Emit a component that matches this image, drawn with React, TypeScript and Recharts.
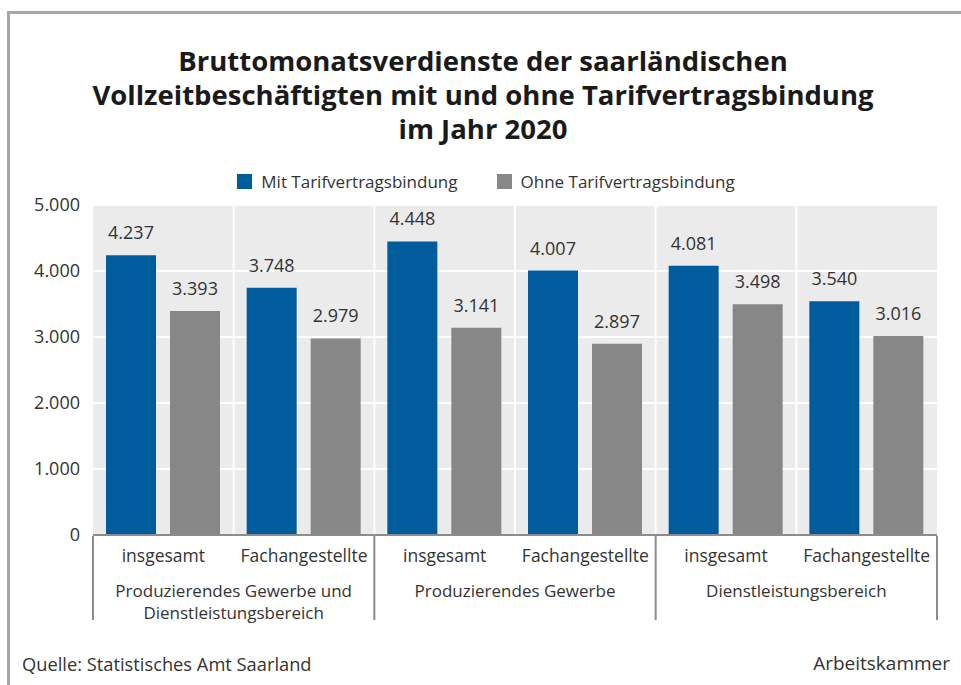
import React from "react";
import { BarChart, Bar, XAxis, YAxis, CartesianGrid, Legend, LabelList, ReferenceLine } from "recharts";

const subCategories = ["insgesamt", "Fachangestellte", "insgesamt", "Fachangestellte", "insgesamt", "Fachangestellte"];
const groupLabels = [
  ["Produzierendes Gewerbe und", "Dienstleistungsbereich"],
  ["Produzierendes Gewerbe"],
  ["Dienstleistungsbereich"],
];
const mitTarif = [4237, 3748, 4448, 4007, 4081, 3540];
const ohneTarif = [3393, 2979, 3141, 2897, 3498, 3016];
const yTicks = [0, 1000, 2000, 3000, 4000, 5000];
const groupTicks = [0, 1, 2, 3, 4, 5, 6];
const boundaries = [1, 2, 3, 4, 5];

// pos = centre of each category on a 0..6 scale, used by the group axis
const data = subCategories.map((sub, i) => ({ sub, pos: i + 0.5, mit: mitTarif[i], ohne: ohneTarif[i] }));

const BLUE = "#005c9c";
const GRAY = "#878787";
const TEXT = "#333333";
const FONT = "'Open Sans', 'Noto Sans', sans-serif";

const fmt = (v: number) => String(v).replace(/\B(?=(\d{3})+(?!\d))/g, ".");

const GroupTick = (props: any) => {
  const { x, y, payload } = props;
  const v = payload.value as number;
  if (v % 2 === 0) {
    return <line x1={x} x2={x} y1={y - 33} y2={y + 51} stroke="#8c8c8c" strokeWidth={2} />;
  }
  const lines = groupLabels[(v - 1) / 2];
  return (
    <text x={x} y={y} textAnchor="middle" fill={TEXT} fontSize={17} fontFamily={FONT}>
      {lines.map((l, i) => (
        <tspan key={i} x={x} dy={i === 0 ? 28 : 22}>
          {l}
        </tspan>
      ))}
    </text>
  );
};

const LegendContent = (props: any) => (
  <div style={{ display: "flex", justifyContent: "center", gap: 39, paddingLeft: 11, fontFamily: FONT, fontSize: 17, color: TEXT }}>
    {props.payload.map((p: any) => (
      <div key={p.value} style={{ display: "flex", alignItems: "center" }}>
        <span style={{ display: "inline-block", width: 15, height: 15, background: p.color, marginRight: 9 }} />
        {p.value}
      </div>
    ))}
  </div>
);

export default function App() {
  return (
    <div style={{ position: "absolute", left: 0, top: 0, width: 961, height: 685, background: "#fff", overflow: "hidden", fontFamily: FONT }}>
      <div style={{ position: "absolute", left: 7, top: 11, width: 1200, height: 1200, borderTop: "3px solid #a6a6a6", borderLeft: "3px solid #a6a6a6" }} />
      <div style={{ position: "absolute", left: 0, top: 44, width: 966, textAlign: "center", fontWeight: 700, fontSize: 27.5, lineHeight: "34px", color: "#1a1a1a" }}>
        Bruttomonatsverdienste der saarländischen
        <br />
        Vollzeitbeschäftigten mit und ohne Tarifvertragsbindung
        <br />
        im Jahr 2020
      </div>
      <div style={{ position: "absolute", left: 0, top: 0 }}>
        <BarChart width={961} height={685} data={data} margin={{ top: 205, right: 24, left: 0, bottom: 26 }} barSize={50} barGap={14}>
          <CartesianGrid vertical={false} fill="#ebebeb" stroke="#ffffff" strokeWidth={2} />
          <XAxis dataKey="sub" height={34} tickLine={false} tickSize={0} tickMargin={15} axisLine={{ stroke: "#8c8c8c", strokeWidth: 2 }} tick={{ fill: TEXT, fontSize: 17.5, fontFamily: FONT }} interval={0} />
          <XAxis xAxisId="group" dataKey="pos" type="number" domain={[0, 6]} ticks={groupTicks} allowDataOverflow height={90} axisLine={false} tickLine={false} tickSize={0} tickMargin={0} interval={0} tick={<GroupTick />} />
          <YAxis width={93} domain={[0, 5000]} ticks={yTicks} axisLine={false} tickLine={false} tickMargin={7} tickFormatter={fmt} tick={{ fill: TEXT, fontSize: 18, fontFamily: FONT }} />
          <Legend layout="horizontal" verticalAlign="middle" align="center" wrapperStyle={{ top: 170, left: 0, width: 961 }} content={<LegendContent />} />
          {boundaries.map((b) => (
            <ReferenceLine key={b} xAxisId="group" x={b} stroke="#ffffff" strokeWidth={2} />
          ))}
          <Bar dataKey="mit" name="Mit Tarifvertragsbindung" fill={BLUE} isAnimationActive={false}>
            <LabelList dataKey="mit" position="top" offset={16} formatter={(v: any) => fmt(v)} fill={TEXT} fontSize={18} fontFamily={FONT} />
          </Bar>
          <Bar dataKey="ohne" name="Ohne Tarifvertragsbindung" fill={GRAY} isAnimationActive={false}>
            <LabelList dataKey="ohne" position="top" offset={16} formatter={(v: any) => fmt(v)} fill={TEXT} fontSize={18} fontFamily={FONT} />
          </Bar>
        </BarChart>
      </div>
      <div style={{ position: "absolute", left: 22, top: 651, fontSize: 18.3, color: TEXT }}>Quelle: Statistisches Amt Saarland</div>
      <div style={{ position: "absolute", right: 11, top: 650, fontSize: 19, color: TEXT }}>Arbeitskammer</div>
    </div>
  );
}
